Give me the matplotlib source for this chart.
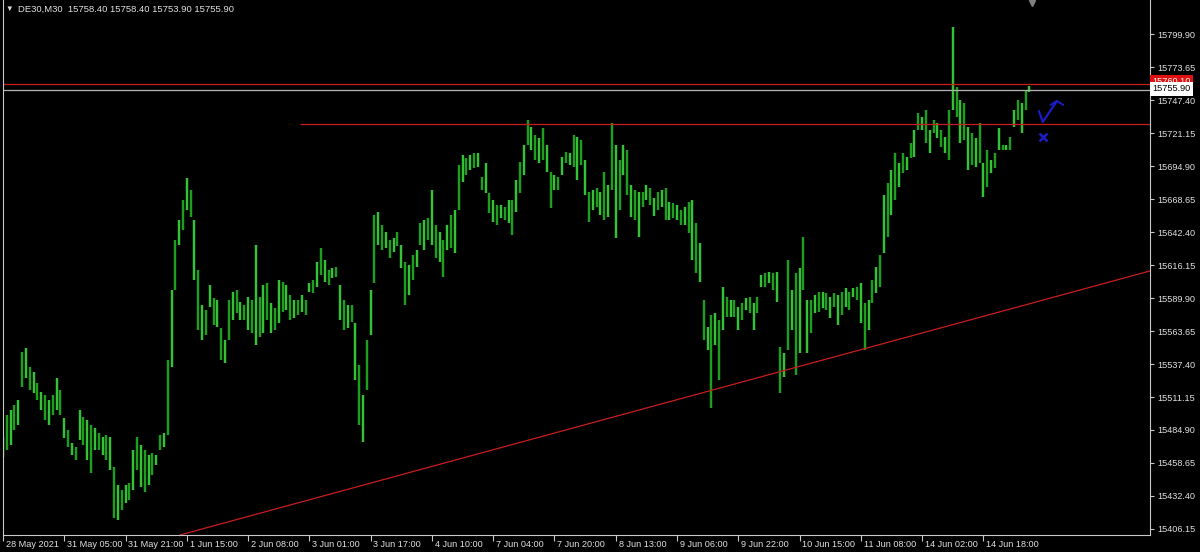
import matplotlib

matplotlib.use("Agg")
import matplotlib.pyplot as plt
import matplotlib.transforms as mtransforms

plt.rcParams["font.family"] = ["Liberation Sans", "DejaVu Sans"]

# DE30 M30 chart (one bar per hour of the picture)
highs = [
    15479.3, 15496.9, 15500.8, 15504.8, 15508.8, 15547.0, 15550.2, 15535.1, 15531.1, 15522.3,
    15515.2, 15512.8, 15508.8, 15512.8, 15526.3, 15516.8, 15494.5, 15484.9, 15474.6, 15471.4,
    15500.8, 15495.3, 15492.9, 15488.9, 15486.5, 15482.5, 15479.3, 15480.9, 15479.3, 15455.5,
    15441.1, 15437.2, 15441.1, 15442.7, 15469.0, 15479.3, 15473.0, 15469.0, 15465.0, 15466.6,
    15465.0, 15480.9, 15482.5, 15540.6, 15596.4, 15636.2, 15652.1, 15668.0, 15685.5, 15676.0,
    15652.1, 15612.3, 15584.4, 15580.5, 15600.4, 15590.0, 15588.4, 15566.1, 15556.6, 15588.4,
    15594.8, 15596.4, 15586.8, 15584.4, 15590.8, 15588.4, 15632.2, 15590.8, 15600.4, 15601.9,
    15586.0, 15582.0, 15604.3, 15602.7, 15600.4, 15592.4, 15588.4, 15588.4, 15592.4, 15588.4,
    15601.9, 15604.3, 15618.6, 15629.8, 15620.2, 15612.3, 15613.9, 15614.7, 15600.4, 15588.4,
    15584.4, 15584.4, 15570.1, 15536.7, 15512.8, 15556.6, 15596.4, 15656.1, 15658.4, 15648.1,
    15642.5, 15636.2, 15637.8, 15642.5, 15632.2, 15618.6, 15616.3, 15624.2, 15628.2, 15649.7,
    15652.1, 15653.7, 15676.0, 15648.1, 15642.5, 15636.2, 15648.1, 15656.1, 15660.0, 15695.9,
    15703.8, 15701.4, 15703.8, 15705.4, 15705.4, 15686.3, 15697.5, 15673.6, 15668.0, 15664.0,
    15664.0, 15662.4, 15668.0, 15668.0, 15683.9, 15698.2, 15711.8, 15731.7, 15726.1, 15719.7,
    15717.3, 15725.3, 15711.8, 15690.3, 15687.9, 15686.3, 15702.2, 15706.2, 15705.4, 15719.7,
    15718.1, 15715.8, 15699.8, 15674.4, 15676.0, 15677.6, 15674.4, 15690.3, 15679.9, 15729.3,
    15711.8, 15699.8, 15711.8, 15707.8, 15679.9, 15676.0, 15674.4, 15674.4, 15679.9, 15677.6,
    15669.6, 15674.4, 15676.0, 15677.6, 15666.4, 15665.6, 15664.0, 15660.0, 15662.4, 15666.4,
    15668.0, 15649.7, 15633.8, 15588.4, 15566.9, 15576.5, 15578.1, 15572.5, 15598.8, 15590.8,
    15588.4, 15588.4, 15582.8, 15586.0, 15590.0, 15590.8, 15586.0, 15590.8, 15608.3, 15609.9,
    15610.7, 15609.9, 15610.7, 15551.0, 15546.2, 15620.2, 15596.4, 15609.9, 15613.9, 15638.5,
    15588.4, 15588.4, 15592.4, 15594.8, 15594.8, 15594.0, 15590.8, 15594.0, 15592.4, 15594.8,
    15598.0, 15594.8, 15598.0, 15598.8, 15601.9, 15586.0, 15588.4, 15604.3, 15614.7, 15624.2,
    15672.0, 15681.5, 15691.9, 15705.4, 15697.5, 15705.4, 15702.2, 15713.4, 15723.7, 15737.3,
    15734.1, 15739.6, 15723.7, 15731.7, 15729.3, 15723.7, 15718.1, 15739.6, 15805.7, 15757.9,
    15747.6, 15745.2, 15726.1, 15721.3, 15717.3, 15729.3, 15697.5, 15707.8, 15699.8, 15705.4,
    15725.3, 15711.8, 15711.8, 15718.1, 15739.6, 15747.6, 15745.2, 15755.6, 15758.4,
]
lows = [
    15463.4, 15469.0, 15473.0, 15484.9, 15488.9, 15519.1, 15526.3, 15516.8, 15514.4, 15508.8,
    15500.8, 15492.9, 15488.9, 15496.9, 15500.8, 15496.9, 15478.5, 15471.4, 15465.0, 15461.0,
    15477.0, 15473.0, 15461.0, 15450.7, 15469.0, 15469.0, 15465.0, 15461.0, 15453.1, 15414.9,
    15413.3, 15421.2, 15426.8, 15429.2, 15437.2, 15453.1, 15439.5, 15435.6, 15441.1, 15449.1,
    15457.1, 15469.0, 15471.4, 15480.9, 15535.1, 15596.4, 15632.2, 15644.1, 15660.0, 15654.5,
    15604.3, 15564.5, 15556.6, 15560.5, 15582.8, 15568.5, 15566.9, 15540.6, 15538.3, 15556.6,
    15572.5, 15578.1, 15572.5, 15572.5, 15564.5, 15562.1, 15552.6, 15558.9, 15562.1, 15572.5,
    15562.1, 15564.5, 15570.1, 15578.9, 15580.5, 15572.5, 15574.1, 15576.5, 15578.9, 15576.5,
    15594.8, 15594.0, 15598.8, 15608.3, 15602.7, 15600.4, 15605.9, 15606.7, 15572.5, 15564.5,
    15566.1, 15570.9, 15524.7, 15488.9, 15475.4, 15516.8, 15560.5, 15601.9, 15632.2, 15628.2,
    15629.8, 15621.8, 15626.6, 15631.4, 15613.9, 15584.4, 15592.4, 15604.3, 15614.7, 15632.2,
    15628.2, 15636.2, 15632.2, 15621.8, 15618.6, 15606.7, 15628.2, 15629.8, 15625.8, 15660.0,
    15682.3, 15687.9, 15691.9, 15693.5, 15694.3, 15676.0, 15673.6, 15657.7, 15650.5, 15648.1,
    15653.7, 15652.1, 15649.7, 15640.1, 15658.4, 15673.6, 15687.9, 15711.8, 15707.8, 15699.8,
    15697.5, 15699.8, 15690.3, 15661.6, 15676.0, 15676.0, 15687.9, 15697.5, 15695.9, 15694.3,
    15683.9, 15695.9, 15672.0, 15650.5, 15660.0, 15662.4, 15656.1, 15652.1, 15654.5, 15676.0,
    15637.8, 15660.0, 15687.9, 15672.0, 15654.5, 15652.1, 15638.5, 15662.4, 15668.0, 15664.0,
    15655.3, 15660.0, 15662.4, 15652.1, 15652.1, 15653.7, 15652.1, 15648.1, 15648.1, 15641.7,
    15620.2, 15609.9, 15602.7, 15556.6, 15548.6, 15502.4, 15552.6, 15524.7, 15564.5, 15574.9,
    15574.9, 15574.9, 15564.5, 15572.5, 15580.5, 15578.1, 15564.5, 15578.1, 15598.8, 15598.8,
    15601.9, 15596.4, 15586.8, 15514.4, 15527.1, 15548.6, 15564.5, 15528.7, 15546.2, 15596.4,
    15546.2, 15562.1, 15578.1, 15578.9, 15582.0, 15580.5, 15574.1, 15582.8, 15568.5, 15576.5,
    15582.8, 15580.5, 15590.8, 15588.4, 15570.1, 15548.6, 15564.5, 15586.0, 15594.0, 15598.8,
    15625.8, 15638.5, 15656.1, 15668.0, 15678.3, 15689.5, 15691.9, 15701.4, 15702.2, 15723.7,
    15723.7, 15713.4, 15705.4, 15721.3, 15717.3, 15710.2, 15705.4, 15699.8, 15739.6, 15734.1,
    15713.4, 15715.8, 15691.9, 15695.9, 15694.3, 15697.5, 15670.4, 15678.3, 15689.5, 15693.5,
    15707.8, 15707.8, 15707.8, 15707.8, 15726.1, 15731.7, 15721.3, 15739.6, 15753.9,
]

date_labels = [
    "28 May 2021", "31 May 05:00", "31 May 21:00", "1 Jun 15:00", "2 Jun 08:00",
    "3 Jun 01:00", "3 Jun 17:00", "4 Jun 10:00", "7 Jun 04:00", "7 Jun 20:00",
    "8 Jun 13:00", "9 Jun 06:00", "9 Jun 22:00", "10 Jun 15:00", "11 Jun 08:00",
    "14 Jun 02:00", "14 Jun 18:00",
]
price_ticks = [
    15406.15, 15432.40, 15458.65, 15484.90, 15511.15, 15537.40, 15563.65, 15589.90,
    15616.15, 15642.40, 15668.65, 15694.90, 15721.15, 15747.40, 15773.65, 15799.90,
]

header = "DE30,M30  15758.40 15758.40 15753.90 15755.90"
bid_price = 15755.90
top_line_price = 15760.10
resist_price = 15728.30
resist_start = 77.5                           # bar where the short red line begins
trend_a = (49.1, 15403.7)                     # rising trendline anchors (bar, price)
trend_b = (299.5, 15611.5)
buy_mark = ([270.5, 271.5, 275.2], [15738.8, 15730.1, 15746.8])
cross_at = (271.5, 15718.5)
shift_bar = 268.7

FG = "#E0E0E0"
RED = "#C81E1E"
BLUE = "#1C1CC8"

fig = plt.figure(figsize=(12, 5.52), dpi=100, facecolor="black")
ax = fig.add_axes([2.5 / 1200, 1 - 535 / 552, 1147.5 / 1200, 535 / 552])
ax.set_facecolor("black")

# bars
xs = list(range(len(highs)))
cols = ["#36C236" if i % 2 == 0 else "#1E9E1E" for i in xs]
ax.vlines(xs, lows, highs, colors=cols, linewidth=1.75)

ax.set_xlim(-0.13, 299.5)
ax.set_ylim(15401.3, 15827.2)

# objects
ax.axhline(top_line_price, color=RED, lw=0.9)
ax.axhline(bid_price, color="#B4B4B4", lw=0.9)
ax.hlines(resist_price, resist_start, 299.5, color=RED, lw=0.9)
ax.axline(trend_a, trend_b, color=RED, lw=0.9)

ax.plot(*buy_mark, color=BLUE, lw=1.6, solid_capstyle="round")
ax.plot([273.6, 275.2, 276.8], [15743.8, 15746.8, 15743.8], color=BLUE, lw=1.4)
ax.plot(*cross_at, marker="x", color=BLUE, ms=6, mew=1.8)

# axes frame / scales
for side in ("left", "right", "bottom"):
    ax.spines[side].set_color("#C8C8C8")
    ax.spines[side].set_linewidth(0.8)
ax.spines["top"].set_visible(False)

ax.set_xticks(range(0, 16 * len(date_labels), 16))
ax.set_xticklabels(date_labels, ha="left")
ax.tick_params(axis="x", direction="out", length=4, width=0.8, colors="#C8C8C8",
               labelcolor=FG, labelsize=6.6, pad=-0.5)
shift = mtransforms.ScaledTranslation(2 / 72, 0, fig.dpi_scale_trans)
for lbl in ax.get_xticklabels():
    lbl.set_transform(lbl.get_transform() + shift)

ax.yaxis.tick_right()
ax.set_yticks(price_ticks)
ax.set_yticklabels([f"{v:.2f}" for v in price_ticks])
ax.tick_params(axis="y", direction="out", length=3, width=0.8, colors="#C8C8C8",
               labelcolor=FG, labelsize=6.6, pad=2)

# price labels on the scale
yt = mtransforms.blended_transform_factory(ax.transAxes, ax.transData)
ax.text(1.002, top_line_price + 2.5, f"{top_line_price:.2f}", transform=yt, fontsize=6.6,
        color="white", ha="left", va="center", clip_on=False,
        bbox=dict(boxstyle="square,pad=0.2", fc="#E01010", ec="none"))
ax.text(1.002, bid_price + 0.5, f"{bid_price:.2f}", transform=yt, fontsize=6.6,
        color="black", ha="left", va="center", clip_on=False,
        bbox=dict(boxstyle="square,pad=0.25", fc="white", ec="none"))

# chart shift marker
xt = mtransforms.blended_transform_factory(ax.transData, ax.transAxes)
ax.plot(shift_bar, 0.994, marker="v", color="#808080", ms=4.5, transform=xt, clip_on=False)

# header
fig.text(5 / 1200, 1 - 9 / 552, "\u25bc", color=FG, fontsize=5.5, va="center")
fig.text(18 / 1200, 1 - 9 / 552, header, color=FG, fontsize=6.8, va="center")

fig.savefig("out.png", dpi=100, facecolor="black")
